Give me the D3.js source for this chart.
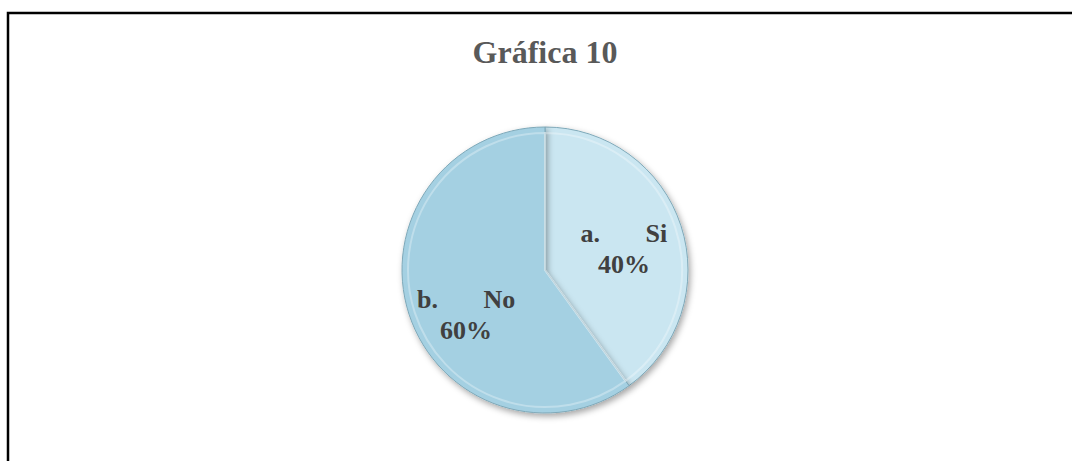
<!DOCTYPE html>
<html>
<head>
<meta charset="utf-8">
<script src="https://cdn.jsdelivr.net/npm/d3@7"></script>
<style>
  body { margin: 0; background: #fff; }
  svg { display: block; }
</style>
</head>
<body>
<div id="chart"></div>
<script>
var categories = ["a.", "b."];
var answers = ["Si", "No"];
var values = [40, 60];
var title = "Gráfica 10";

var width = 1072, height = 461;
var cx = 545, cy = 270, radius = 143;

var svg = d3.select("#chart").append("svg")
    .attr("width", width)
    .attr("height", height);

var defs = svg.append("defs");

// slice gradients (soft bevel look)
var fills = [["#def0f7", "#cae6f1"], ["#b4dbea", "#a4d0e2"]];
fills.forEach(function(f, i) {
  var g = defs.append("radialGradient")
      .attr("id", "grad" + i)
      .attr("gradientUnits", "userSpaceOnUse")
      .attr("cx", cx).attr("cy", cy - 40).attr("r", radius * 1.2);
  g.append("stop").attr("offset", "0%").attr("stop-color", f[0]);
  g.append("stop").attr("offset", "100%").attr("stop-color", f[1]);
});

var shadow = defs.append("filter").attr("id", "shadow")
    .attr("x", "-20%").attr("y", "-20%").attr("width", "140%").attr("height", "140%");
shadow.append("feDropShadow")
    .attr("dx", 2).attr("dy", 3).attr("stdDeviation", 3)
    .attr("flood-color", "#000").attr("flood-opacity", 0.35);

// chart frame (only top and left edges are in view)
svg.append("rect")
    .attr("x", 8).attr("y", 13)
    .attr("width", width + 20).attr("height", height + 20)
    .attr("fill", "none")
    .attr("stroke", "#000")
    .attr("stroke-width", 2.5);

svg.append("text")
    .attr("x", cx).attr("y", 63)
    .attr("text-anchor", "middle")
    .style("font-family", "'Liberation Serif', 'Times New Roman', serif")
    .style("font-weight", "bold")
    .style("font-size", "32px")
    .style("fill", "#595959")
    .text(title);

var data = values.map(function(v, i) {
  return {cat: categories[i], ans: answers[i], value: v};
});

var pie = d3.pie().sort(null).value(function(d) { return d.value; });
var arc = d3.arc().innerRadius(0).outerRadius(radius);
var inner = d3.arc().innerRadius(0).outerRadius(radius - 6);

var g = svg.append("g").attr("transform", "translate(" + cx + "," + cy + ")");
var arcs = pie(data);

g.selectAll("path.slice")
  .data(arcs)
  .enter().append("path")
    .attr("class", "slice")
    .attr("d", arc)
    .attr("fill", function(d, i) { return "url(#grad" + i + ")"; })
    .attr("stroke", "#7fa9b9")
    .attr("stroke-width", 1)
    .attr("filter", "url(#shadow)");

// inner bevel highlight
g.selectAll("path.bevel")
  .data(arcs)
  .enter().append("path")
    .attr("class", "bevel")
    .attr("d", inner)
    .attr("fill", "none")
    .attr("stroke", "#ffffff")
    .attr("stroke-opacity", 0.3)
    .attr("stroke-width", 2);

// labels
var labelArc = d3.arc().innerRadius(radius * 0.58).outerRadius(radius * 0.58);
var label = g.selectAll("text.lbl")
  .data(arcs)
  .enter().append("text")
    .attr("class", "lbl")
    .attr("transform", function(d) {
      var c = labelArc.centroid(d);
      // best-fit style: labels on the lower half sit a bit lower
      var shift = c[1] > 0 ? 12 : -2;
      return "translate(" + c[0] + "," + (c[1] + shift) + ")";
    })
    .attr("text-anchor", "middle")
    .style("font-family", "'Liberation Serif', 'Times New Roman', serif")
    .style("font-weight", "bold")
    .style("font-size", "26px")
    .style("fill", "#404040");

label.append("tspan")
    .attr("x", 0).attr("dy", 0)
    .text(function(d) { return d.data.cat + "\u00a0\u00a0\u00a0\u00a0\u00a0\u00a0\u00a0" + d.data.ans; });

label.append("tspan")
    .attr("x", 0).attr("dy", 31)
    .text(function(d) { return d.data.value + "%"; });
</script>
</body>
</html>
